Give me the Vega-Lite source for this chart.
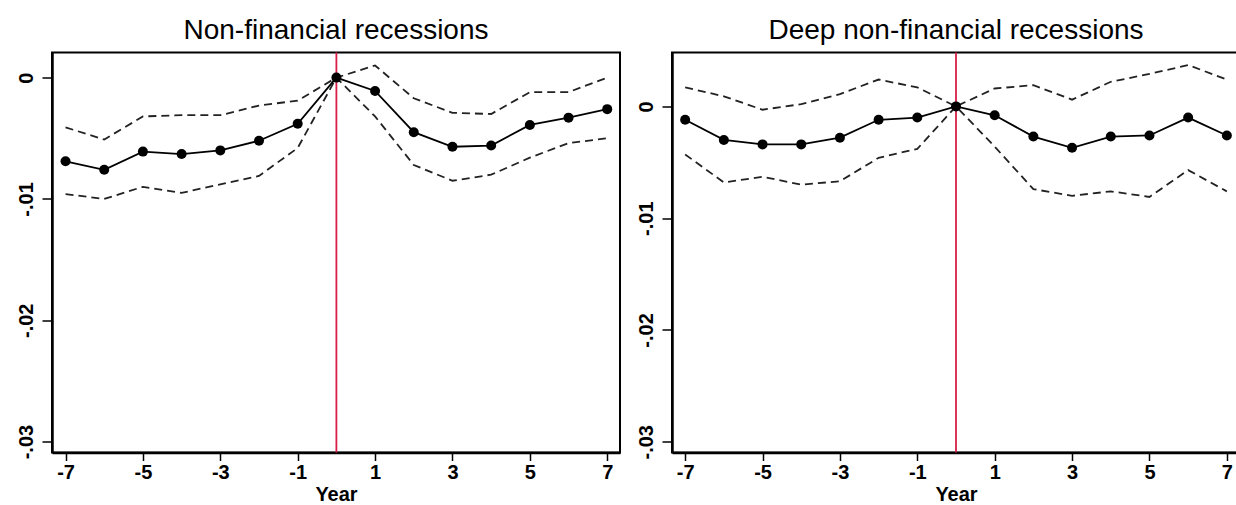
{
  "$schema": "https://vega.github.io/schema/vega-lite/v6.json",
  "padding": {"left": 15, "top": 15.5, "right": 0, "bottom": 0},
  "background": "white",
  "config": {
    "font": "Liberation Sans",
    "view": {"stroke": "black", "strokeWidth": 2},
    "axis": {
      "grid": false,
      "domainColor": "black",
      "domainWidth": 2.5,
      "tickColor": "black",
      "tickWidth": 1.5,
      "labelColor": "black",
      "labelFont": "Liberation Sans",
      "labelFontWeight": "bold",
      "labelFontSize": 20,
      "labelOverlap": false,
      "labelFlush": false,
      "titleColor": "black",
      "titleFont": "Liberation Sans",
      "titleFontWeight": "bold",
      "titleFontSize": 20
    },
    "title": {"fontSize": 28, "fontWeight": "normal", "font": "Liberation Sans", "baseline": "alphabetic", "offset": 7, "anchor": "middle", "color": "black"},
    "concat": {"spacing": 14}
  },
  "data": {
    "values": [
      {"panel": "A", "year": -7, "est": -0.0069, "hi": -0.0041, "lo": -0.0096},
      {"panel": "A", "year": -6, "est": -0.0076, "hi": -0.0051, "lo": -0.0100},
      {"panel": "A", "year": -5, "est": -0.0061, "hi": -0.0032, "lo": -0.0090},
      {"panel": "A", "year": -4, "est": -0.0063, "hi": -0.0031, "lo": -0.0095},
      {"panel": "A", "year": -3, "est": -0.0060, "hi": -0.0031, "lo": -0.0088},
      {"panel": "A", "year": -2, "est": -0.0052, "hi": -0.0023, "lo": -0.0081},
      {"panel": "A", "year": -1, "est": -0.0038, "hi": -0.0019, "lo": -0.0058},
      {"panel": "A", "year": 0, "est": 0.0, "hi": 0.0, "lo": 0.0},
      {"panel": "A", "year": 1, "est": -0.0011, "hi": 0.0010, "lo": -0.0032},
      {"panel": "A", "year": 2, "est": -0.0045, "hi": -0.0017, "lo": -0.0072},
      {"panel": "A", "year": 3, "est": -0.0057, "hi": -0.0029, "lo": -0.0085},
      {"panel": "A", "year": 4, "est": -0.0056, "hi": -0.0030, "lo": -0.0080},
      {"panel": "A", "year": 5, "est": -0.0039, "hi": -0.0012, "lo": -0.0066},
      {"panel": "A", "year": 6, "est": -0.0033, "hi": -0.0012, "lo": -0.0054},
      {"panel": "A", "year": 7, "est": -0.0026, "hi": 0.0000, "lo": -0.0050},
      {"panel": "B", "year": -7, "est": -0.0012, "hi": 0.0017, "lo": -0.0043},
      {"panel": "B", "year": -6, "est": -0.0030, "hi": 0.0009, "lo": -0.0068},
      {"panel": "B", "year": -5, "est": -0.0034, "hi": -0.0003, "lo": -0.0063},
      {"panel": "B", "year": -4, "est": -0.0034, "hi": 0.0002, "lo": -0.0070},
      {"panel": "B", "year": -3, "est": -0.0028, "hi": 0.0011, "lo": -0.0067},
      {"panel": "B", "year": -2, "est": -0.0012, "hi": 0.0024, "lo": -0.0046},
      {"panel": "B", "year": -1, "est": -0.0010, "hi": 0.0017, "lo": -0.0038},
      {"panel": "B", "year": 0, "est": 0.0, "hi": 0.0, "lo": 0.0},
      {"panel": "B", "year": 1, "est": -0.0008, "hi": 0.0016, "lo": -0.0036},
      {"panel": "B", "year": 2, "est": -0.0027, "hi": 0.0019, "lo": -0.0074},
      {"panel": "B", "year": 3, "est": -0.0037, "hi": 0.0006, "lo": -0.0080},
      {"panel": "B", "year": 4, "est": -0.0027, "hi": 0.0022, "lo": -0.0076},
      {"panel": "B", "year": 5, "est": -0.0026, "hi": 0.0029, "lo": -0.0081},
      {"panel": "B", "year": 6, "est": -0.0010, "hi": 0.0037, "lo": -0.0057},
      {"panel": "B", "year": 7, "est": -0.0026, "hi": 0.0024, "lo": -0.0076}
    ]
  },
  "hconcat": [
    {
      "width": 568,
      "height": 400,
      "title": "Non-financial recessions",
      "transform": [{"filter": "datum.panel == 'A'"}],
      "encoding": {
        "x": {
          "field": "year", "type": "quantitative",
          "scale": {"domain": [-7.35, 7.33], "nice": false, "zero": false},
          "axis": {"values": [-7, -5, -3, -1, 1, 3, 5, 7], "tickSize": 8, "labelPadding": 2, "title": "Year", "titlePadding": 2,
                   "labelExpr": "datum.value < 0 ? '-' + abs(datum.value) : '' + datum.value"}
        }
      },
      "layer": [
        {"transform": [{"filter": "datum.year == 0"}], "mark": {"type": "rule", "color": "#d81e48", "strokeWidth": 1.8}, "encoding": {"x": {"field": "year", "type": "quantitative"}}},
        {"mark": {"type": "line", "strokeDash": [8, 5], "color": "#222222", "strokeWidth": 1.8},
         "encoding": {"y": {"field": "hi", "type": "quantitative", "scale": {"domain": [-0.0309, 0.00207], "nice": false, "zero": false},
           "axis": {"values": [-0.03, -0.02, -0.01, 0], "title": null, "labelAngle": -90, "labelAlign": "center", "labelBaseline": "bottom", "tickSize": 10, "labelPadding": 6,
                    "labelExpr": "datum.value < -0.025 ? '-.03' : datum.value < -0.015 ? '-.02' : datum.value < -0.005 ? '-.01' : '0'"}}}},
        {"mark": {"type": "line", "strokeDash": [8, 5], "color": "#222222", "strokeWidth": 1.8},
         "encoding": {"y": {"field": "lo", "type": "quantitative", "scale": {"domain": [-0.0309, 0.00207], "nice": false, "zero": false},
           "axis": {"values": [-0.03, -0.02, -0.01, 0], "title": null, "labelAngle": -90, "labelAlign": "center", "labelBaseline": "bottom", "tickSize": 10, "labelPadding": 6,
                    "labelExpr": "datum.value < -0.025 ? '-.03' : datum.value < -0.015 ? '-.02' : datum.value < -0.005 ? '-.01' : '0'"}}}},
        {"mark": {"type": "line", "color": "black", "strokeWidth": 1.8},
         "encoding": {"y": {"field": "est", "type": "quantitative", "scale": {"domain": [-0.0309, 0.00207], "nice": false, "zero": false},
           "axis": {"values": [-0.03, -0.02, -0.01, 0], "title": null, "labelAngle": -90, "labelAlign": "center", "labelBaseline": "bottom", "tickSize": 10, "labelPadding": 6,
                    "labelExpr": "datum.value < -0.025 ? '-.03' : datum.value < -0.015 ? '-.02' : datum.value < -0.005 ? '-.01' : '0'"}}}},
        {"mark": {"type": "point", "filled": true, "color": "black", "size": 100, "opacity": 1},
         "encoding": {"y": {"field": "est", "type": "quantitative", "scale": {"domain": [-0.0309, 0.00207], "nice": false, "zero": false},
           "axis": {"values": [-0.03, -0.02, -0.01, 0], "title": null, "labelAngle": -90, "labelAlign": "center", "labelBaseline": "bottom", "tickSize": 10, "labelPadding": 6,
                    "labelExpr": "datum.value < -0.025 ? '-.03' : datum.value < -0.015 ? '-.02' : datum.value < -0.005 ? '-.01' : '0'"}}}}
      ]
    },
    {
      "width": 568,
      "height": 400,
      "title": "Deep non-financial recessions",
      "transform": [{"filter": "datum.panel == 'B'"}],
      "encoding": {
        "x": {
          "field": "year", "type": "quantitative",
          "scale": {"domain": [-7.34, 7.34], "nice": false, "zero": false},
          "axis": {"values": [-7, -5, -3, -1, 1, 3, 5, 7], "tickSize": 8, "labelPadding": 2, "title": "Year", "titlePadding": 2,
                   "labelExpr": "datum.value < 0 ? '-' + abs(datum.value) : '' + datum.value"}
        }
      },
      "layer": [
        {"transform": [{"filter": "datum.year == 0"}], "mark": {"type": "rule", "color": "#d81e48", "strokeWidth": 1.8}, "encoding": {"x": {"field": "year", "type": "quantitative"}}},
        {"mark": {"type": "line", "strokeDash": [8, 5], "color": "#222222", "strokeWidth": 1.8},
         "encoding": {"y": {"field": "hi", "type": "quantitative", "scale": {"domain": [-0.03096, 0.00482], "nice": false, "zero": false},
           "axis": {"values": [-0.03, -0.02, -0.01, 0], "title": null, "labelAngle": -90, "labelAlign": "center", "labelBaseline": "bottom", "tickSize": 10, "labelPadding": 6,
                    "labelExpr": "datum.value < -0.025 ? '-.03' : datum.value < -0.015 ? '-.02' : datum.value < -0.005 ? '-.01' : '0'"}}}},
        {"mark": {"type": "line", "strokeDash": [8, 5], "color": "#222222", "strokeWidth": 1.8},
         "encoding": {"y": {"field": "lo", "type": "quantitative", "scale": {"domain": [-0.03096, 0.00482], "nice": false, "zero": false},
           "axis": {"values": [-0.03, -0.02, -0.01, 0], "title": null, "labelAngle": -90, "labelAlign": "center", "labelBaseline": "bottom", "tickSize": 10, "labelPadding": 6,
                    "labelExpr": "datum.value < -0.025 ? '-.03' : datum.value < -0.015 ? '-.02' : datum.value < -0.005 ? '-.01' : '0'"}}}},
        {"mark": {"type": "line", "color": "black", "strokeWidth": 1.8},
         "encoding": {"y": {"field": "est", "type": "quantitative", "scale": {"domain": [-0.03096, 0.00482], "nice": false, "zero": false},
           "axis": {"values": [-0.03, -0.02, -0.01, 0], "title": null, "labelAngle": -90, "labelAlign": "center", "labelBaseline": "bottom", "tickSize": 10, "labelPadding": 6,
                    "labelExpr": "datum.value < -0.025 ? '-.03' : datum.value < -0.015 ? '-.02' : datum.value < -0.005 ? '-.01' : '0'"}}}},
        {"mark": {"type": "point", "filled": true, "color": "black", "size": 100, "opacity": 1},
         "encoding": {"y": {"field": "est", "type": "quantitative", "scale": {"domain": [-0.03096, 0.00482], "nice": false, "zero": false},
           "axis": {"values": [-0.03, -0.02, -0.01, 0], "title": null, "labelAngle": -90, "labelAlign": "center", "labelBaseline": "bottom", "tickSize": 10, "labelPadding": 6,
                    "labelExpr": "datum.value < -0.025 ? '-.03' : datum.value < -0.015 ? '-.02' : datum.value < -0.005 ? '-.01' : '0'"}}}}
      ]
    }
  ]
}
